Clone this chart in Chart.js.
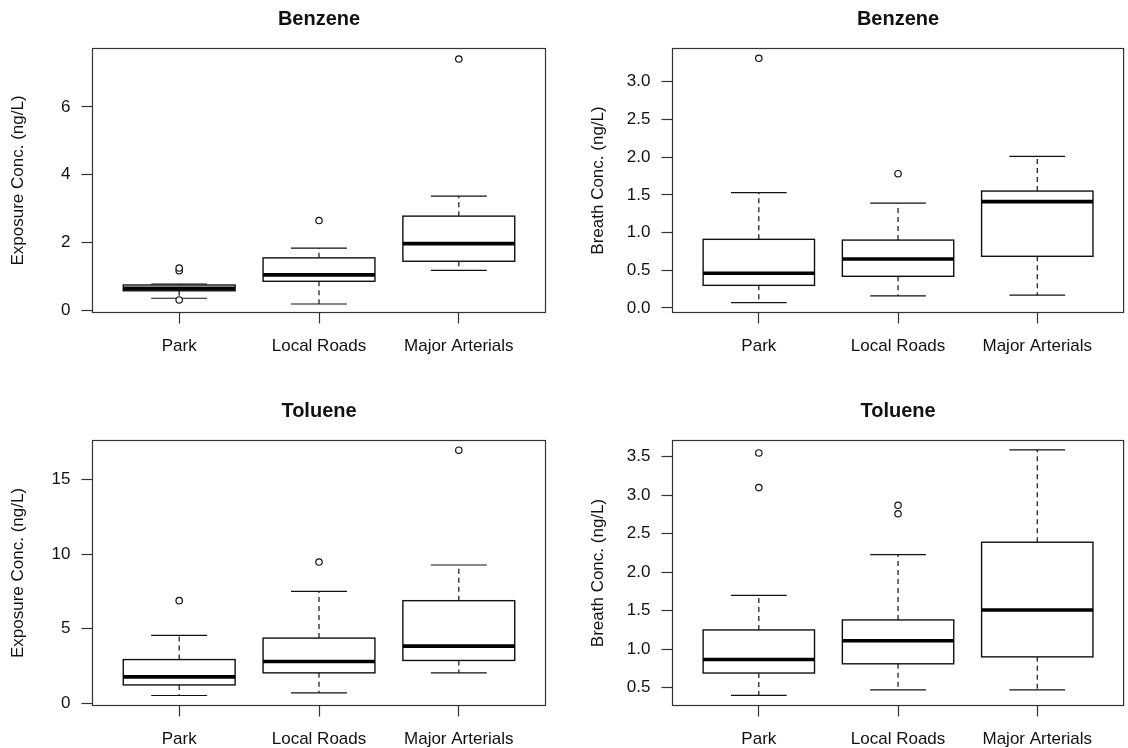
<!DOCTYPE html>
<html>
<head>
<meta charset="utf-8">
<script src="https://cdn.jsdelivr.net/npm/chart.js@4.4.1/dist/chart.umd.min.js"></script>
<style>
  body { margin: 0; background: #fff; }
  #wrap { position: relative; width: 1128px; height: 748px; overflow: hidden; background: #fff; }
  #wrap canvas { position: absolute; }
</style>
</head>
<body>
<div id="wrap">
  <canvas id="c1"></canvas>
  <canvas id="c2"></canvas>
  <canvas id="c3"></canvas>
  <canvas id="c4"></canvas>
</div>
<script>
// Categorias
const categories = ['Park', 'Local Roads', 'Major Arterials'];

// Benzene - exposicao
const benzExpLow  = [0.36, 0.19, 1.18];
const benzExpQ1   = [0.58, 0.86, 1.45];
const benzExpMed  = [0.65, 1.05, 1.97];
const benzExpQ3   = [0.75, 1.55, 2.78];
const benzExpHigh = [0.78, 1.84, 3.37];
const benzExpOut  = [[1.17, 1.25, 0.31], [2.65], [7.41]];
const benzExpTicks = [0, 2, 4, 6];

// Benzene - respiracao
const benzBreLow  = [0.07, 0.16, 0.17];
const benzBreQ1   = [0.30, 0.42, 0.685];
const benzBreMed  = [0.46, 0.65, 1.41];
const benzBreQ3   = [0.91, 0.90, 1.55];
const benzBreHigh = [1.53, 1.39, 2.01];
const benzBreOut  = [[3.31], [1.78], []];
const benzBreTicks = [0, 0.5, 1.0, 1.5, 2.0, 2.5, 3.0];

// Toluene - exposicao
const tolExpLow  = [0.52, 0.70, 2.04];
const tolExpQ1   = [1.23, 2.04, 2.87];
const tolExpMed  = [1.77, 2.80, 3.83];
const tolExpQ3   = [2.93, 4.37, 6.88];
const tolExpHigh = [4.55, 7.50, 9.27];
const tolExpOut  = [[6.88], [9.47], [16.97]];
const tolExpTicks = [0, 5, 10, 15];

// Toluene - respiracao
const tolBreLow  = [0.40, 0.47, 0.47];
const tolBreQ1   = [0.69, 0.81, 0.90];
const tolBreMed  = [0.865, 1.11, 1.51];
const tolBreQ3   = [1.25, 1.38, 2.39];
const tolBreHigh = [1.70, 2.23, 3.59];
const tolBreOut  = [[3.10, 3.55], [2.76, 2.87], []];
const tolBreTicks = [0.5, 1.0, 1.5, 2.0, 2.5, 3.0, 3.5];

const FONT = '"Liberation Sans", Arial, Helvetica, sans-serif';
const INK = '#111';
const X_AXIS_H = 48;

// Desenha caixas e bigodes usando as escalas do grafico
const boxPlotPlugin = {
  id: 'boxPlot',
  beforeDatasetsDraw(chart, args, opts) {
    const { ctx, scales: { x, y } } = chart;
    const s = opts.stats;
    const line = (x1, y1, x2, y2) => {
      ctx.beginPath();
      ctx.moveTo(x1, y1);
      ctx.lineTo(x2, y2);
      ctx.stroke();
    };
    ctx.save();
    ctx.strokeStyle = INK;
    for (let i = 0; i < s.med.length; i++) {
      const cx = x.getPixelForValue(i + 1);
      const half = x.getPixelForValue(i + 1.4) - cx;
      const cap = half / 2;
      const pLow = y.getPixelForValue(s.low[i]);
      const pQ1 = y.getPixelForValue(s.q1[i]);
      const pMed = y.getPixelForValue(s.med[i]);
      const pQ3 = y.getPixelForValue(s.q3[i]);
      const pHigh = y.getPixelForValue(s.high[i]);

      // bigodes tracejados
      ctx.lineWidth = 1.2;
      ctx.setLineDash([5, 4]);
      line(cx, pQ3, cx, pHigh);
      line(cx, pQ1, cx, pLow);
      ctx.setLineDash([]);
      line(cx - cap, pHigh, cx + cap, pHigh);
      line(cx - cap, pLow, cx + cap, pLow);

      // caixa
      ctx.fillStyle = '#fff';
      ctx.fillRect(cx - half, pQ3, half * 2, pQ1 - pQ3);
      ctx.lineWidth = 1.4;
      ctx.strokeRect(cx - half, pQ3, half * 2, pQ1 - pQ3);

      // mediana
      ctx.strokeStyle = '#000';
      ctx.lineWidth = 3.6;
      line(cx - half, pMed, cx + half, pMed);
      ctx.strokeStyle = INK;
    }
    ctx.restore();
  },
  afterDraw(chart) {
    const { ctx, chartArea: a } = chart;
    ctx.save();
    ctx.strokeStyle = '#333';
    ctx.lineWidth = 1.2;
    ctx.strokeRect(a.left, a.top, a.right - a.left, a.bottom - a.top);
    ctx.restore();
  }
};

function makePanel(cfg) {
  const canvas = document.getElementById(cfg.id);
  canvas.width = cfg.w;
  canvas.height = cfg.h;
  canvas.style.left = cfg.x + 'px';
  canvas.style.top = cfg.y + 'px';

  const left = cfg.area.left - cfg.x;
  const right = cfg.area.right - cfg.x;
  const top = cfg.area.top - cfg.y;
  const bottom = cfg.area.bottom - cfg.y;
  const titleMid = cfg.titleY - cfg.y;

  const outlierPoints = [];
  cfg.stats.out.forEach((vals, i) => {
    vals.forEach(v => outlierPoints.push({ x: i + 1, y: v }));
  });

  return new Chart(canvas, {
    type: 'scatter',
    data: {
      datasets: [{
        data: outlierPoints,
        pointRadius: 3.2,
        pointHoverRadius: 3.2,
        pointBackgroundColor: '#fff',
        pointBorderColor: INK,
        pointBorderWidth: 1.2
      }]
    },
    plugins: [boxPlotPlugin],
    options: {
      responsive: false,
      animation: false,
      devicePixelRatio: 1,
      layout: {
        padding: { left: 0, top: 0, right: cfg.w - right, bottom: cfg.h - bottom - X_AXIS_H }
      },
      plugins: {
        legend: { display: false },
        tooltip: { enabled: false },
        boxPlot: { stats: cfg.stats },
        title: {
          display: true,
          text: cfg.title,
          fullSize: false,
          color: INK,
          font: { family: FONT, size: 20, weight: 'bold', lineHeight: 1.2 },
          padding: { top: titleMid - 12, bottom: top - titleMid - 12 }
        }
      },
      scales: {
        x: {
          type: 'linear',
          min: 0.38,
          max: 3.62,
          border: { display: false },
          grid: { drawOnChartArea: false, drawTicks: true, tickLength: 11, tickColor: '#333', tickWidth: 1.2 },
          afterBuildTicks: scale => { scale.ticks = categories.map((c, i) => ({ value: i + 1 })); },
          afterFit: scale => { scale.height = X_AXIS_H; },
          ticks: {
            autoSkip: false,
            maxRotation: 0,
            padding: 13,
            color: INK,
            font: { family: FONT, size: 17 },
            callback: v => categories[v - 1]
          }
        },
        y: {
          type: 'linear',
          min: cfg.yMin,
          max: cfg.yMax,
          border: { display: false },
          grid: { drawOnChartArea: false, drawTicks: true, tickLength: 11, tickColor: '#333', tickWidth: 1.2 },
          afterBuildTicks: scale => { scale.ticks = cfg.ticks.map(v => ({ value: v })); },
          afterFit: scale => { scale.width = left; },
          ticks: {
            padding: 11,
            color: INK,
            font: { family: FONT, size: 17 },
            callback: v => cfg.decimals ? v.toFixed(1) : String(v)
          },
          title: {
            display: true,
            text: cfg.yLabel,
            color: INK,
            font: { family: FONT, size: 17, lineHeight: 1.2 },
            padding: { top: cfg.yLabelX - cfg.x - 10.2, bottom: 0 }
          }
        }
      }
    }
  });
}

makePanel({
  id: 'c1', x: 0, y: 0, w: 564, h: 374,
  area: { left: 92.5, right: 545.5, top: 48.5, bottom: 312.5 },
  titleY: 19.5, yLabelX: 18.5,
  title: 'Benzene', yLabel: 'Exposure Conc. (ng/L)',
  yMin: -0.06, yMax: 7.72, ticks: benzExpTicks, decimals: false,
  stats: { low: benzExpLow, q1: benzExpQ1, med: benzExpMed, q3: benzExpQ3, high: benzExpHigh, out: benzExpOut }
});

makePanel({
  id: 'c2', x: 564, y: 0, w: 564, h: 374,
  area: { left: 672.5, right: 1125.5, top: 48.5, bottom: 312.5 },
  titleY: 19.5, yLabelX: 598.5,
  title: 'Benzene', yLabel: 'Breath Conc. (ng/L)',
  yMin: -0.06, yMax: 3.44, ticks: benzBreTicks, decimals: true,
  stats: { low: benzBreLow, q1: benzBreQ1, med: benzBreMed, q3: benzBreQ3, high: benzBreHigh, out: benzBreOut }
});

makePanel({
  id: 'c3', x: 0, y: 374, w: 564, h: 390,
  area: { left: 92.5, right: 545.5, top: 440.5, bottom: 705.5 },
  titleY: 411.5, yLabelX: 18.5,
  title: 'Toluene', yLabel: 'Exposure Conc. (ng/L)',
  yMin: -0.15, yMax: 17.62, ticks: tolExpTicks, decimals: false,
  stats: { low: tolExpLow, q1: tolExpQ1, med: tolExpMed, q3: tolExpQ3, high: tolExpHigh, out: tolExpOut }
});

makePanel({
  id: 'c4', x: 564, y: 374, w: 564, h: 390,
  area: { left: 672.5, right: 1125.5, top: 440.5, bottom: 705.5 },
  titleY: 411.5, yLabelX: 598.5,
  title: 'Toluene', yLabel: 'Breath Conc. (ng/L)',
  yMin: 0.268, yMax: 3.712, ticks: tolBreTicks, decimals: true,
  stats: { low: tolBreLow, q1: tolBreQ1, med: tolBreMed, q3: tolBreQ3, high: tolBreHigh, out: tolBreOut }
});
</script>
</body>
</html>
